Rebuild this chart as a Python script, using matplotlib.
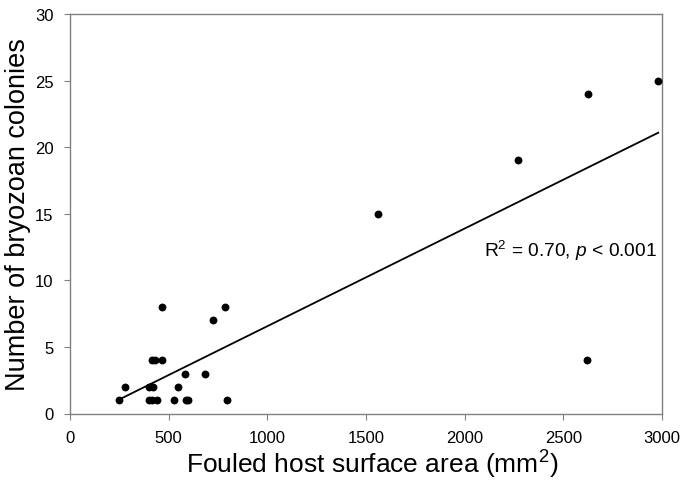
import numpy as np
import matplotlib
matplotlib.use("Agg")
import matplotlib.pyplot as plt

plt.rcParams['font.family'] = ['Liberation Sans', 'DejaVu Sans']
plt.rcParams['mathtext.fontset'] = 'custom'
plt.rcParams['mathtext.rm'] = 'Liberation Sans'
plt.rcParams['mathtext.it'] = 'Liberation Sans:italic'
plt.rcParams['mathtext.bf'] = 'Liberation Sans:bold'

surface_area = np.array([250, 398, 415, 440, 529, 589, 600, 796,
                         280, 398, 422, 548,
                         584, 684,
                         418, 430, 468,
                         723,
                         467, 786,
                         1560, 2272, 2627, 2981, 2620])
colonies = np.array([1, 1, 1, 1, 1, 1, 1, 1,
                     2, 2, 2, 2,
                     3, 3,
                     4, 4, 4,
                     7,
                     8, 8,
                     15, 19, 24, 25, 4])

x_ticks = [0, 500, 1000, 1500, 2000, 2500, 3000]
y_ticks = [0, 5, 10, 15, 20, 25, 30]

fig = plt.figure(figsize=(6.83, 4.81), dpi=100)
ax = fig.add_axes([70/683, 1-414.5/481, (662-70)/683, (414.5-15)/481])

ax.scatter(surface_area, colonies, s=32, color='black', zorder=3, clip_on=False,
           linewidths=0)

slope, intercept = np.polyfit(surface_area, colonies, 1)
xl = np.array([surface_area.min(), surface_area.max()])
ax.plot(xl, slope*xl + intercept, color='black', lw=1.3, zorder=2)

ax.set_xlim(0, 3000)
ax.set_ylim(0, 30)
ax.set_xticks(x_ticks)
ax.set_yticks(y_ticks)
for s in ax.spines.values():
    s.set_color('#808080')
    s.set_linewidth(1.0)
ax.tick_params(direction='out', length=4, color='#808080', labelsize=12, pad=8)
ax.set_xlabel('Fouled host surface area (mm$^2$)', fontsize=19, labelpad=2)
ax.xaxis.label.set_x(0.51)
ax.set_ylabel('Number of bryozoan colonies', fontsize=19.5, labelpad=2.5)

ax.text(2975, 12.3, r'R$^2$ = 0.70, $p$ < 0.001', fontsize=13.8, ha='right', va='center')

fig.savefig('out.png', dpi=100)
